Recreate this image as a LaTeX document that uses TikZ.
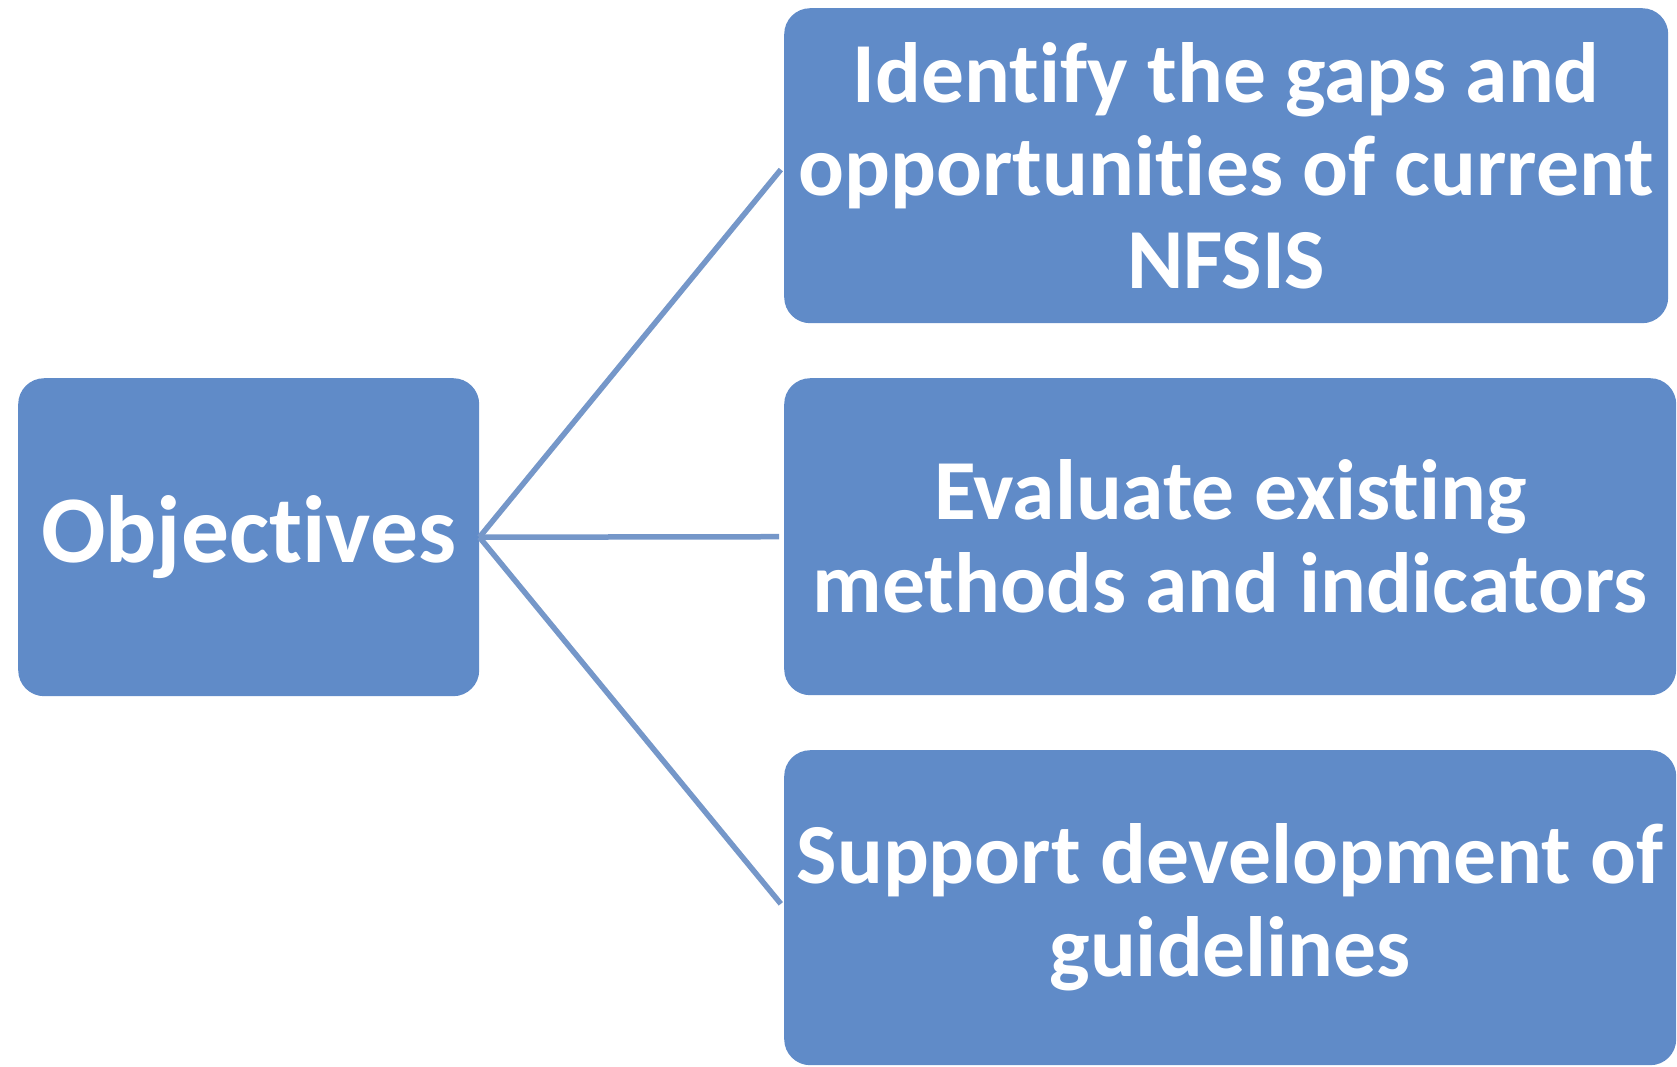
\documentclass[tikz,border=0pt]{standalone}
\usepackage{fontspec}
\setmainfont[Ligatures=NoCommon,RawFeature={-liga}]{Carlito}
\begin{document}
\begin{tikzpicture}[x=1pt,y=-1pt,
  box/.style={draw=none,fill=boxblue,rounded corners=26pt,inner sep=0pt,
    text=white,font=\bfseries,align=center,anchor=north west},
  conn/.style={draw=lineblue,line width=5.5pt,shorten >=5pt}]
\definecolor{boxblue}{RGB}{96,139,200}
\definecolor{lineblue}{RGB}{117,151,201}
\useasboundingbox (0,0) rectangle (1677,1066);
\node[box,minimum width=461pt,minimum height=318pt,
  font=\bfseries\fontsize{95.5}{104}\selectfont] (obj) at (18,378) {Objectives};
\node[box,minimum width=884pt,minimum height=315pt,
  font=\bfseries\fontsize{85.5}{93}\selectfont] (b1) at (784,8)
  {Identify the gaps and\\opportunities of current\\NFSIS};
\node[box,minimum width=892pt,minimum height=317pt,
  font=\bfseries\fontsize{85.5}{93}\selectfont] (b2) at (784,378)
  {Evaluate existing\\methods and indicators};
\node[box,minimum width=892pt,minimum height=315pt,
  font=\bfseries\fontsize{85.5}{93}\selectfont] (b3) at (784,750)
  {Support development of\\guidelines};
\draw[conn] (obj.east) -- (b1.west);
\draw[conn] (obj.east) -- (b2.west);
\draw[conn] (obj.east) -- (b3.west);
\end{tikzpicture}
\end{document}
